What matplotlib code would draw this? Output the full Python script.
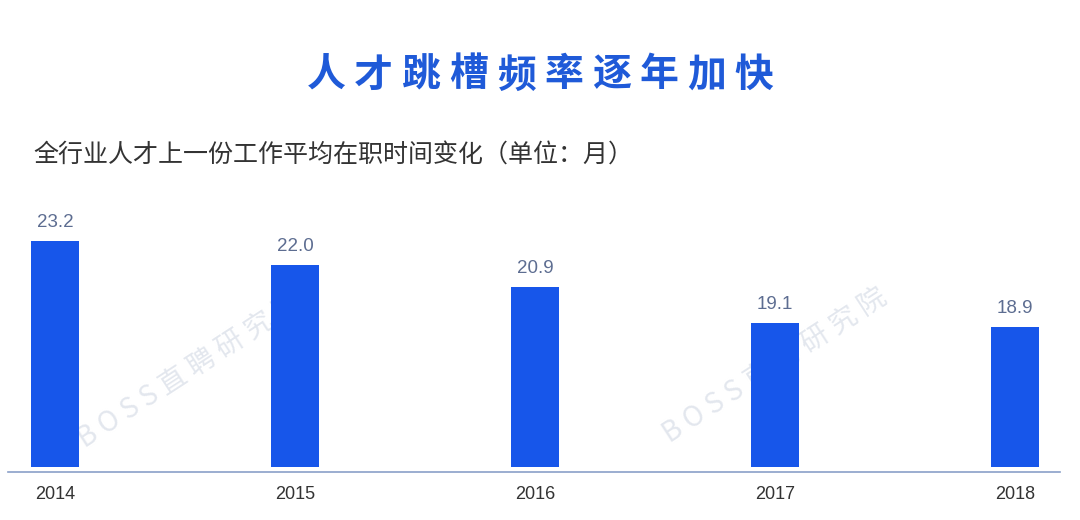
import numpy as np
import matplotlib
matplotlib.use("Agg")
import matplotlib.pyplot as plt

plt.rcParams['font.family'] = ['Noto Sans CJK SC', 'DejaVu Sans']

# 数据
years = ['2014', '2015', '2016', '2017', '2018']
months = [23.2, 22.0, 20.9, 19.1, 18.9]
base = 11.9  # 柱子的起点（纵轴不从 0 开始）

title = '人才跳槽频率逐年加快'
subtitle = '全行业人才上一份工作平均在职时间变化（单位：月）'

bar_color = '#1756ea'
title_color = '#1f5ad8'

fig = plt.figure(figsize=(10.8, 5.2), dpi=100)
fig.patch.set_facecolor('white')

# 水印（放在最底层）
for wx, wy in [(190, 370), (775, 365)]:
    fig.text(wx / 1080, 1 - wy / 520, 'B O S S 直 聘 研 究 院', rotation=33,
             ha='center', va='center', fontsize=20, color='#e3e7ee',
             zorder=-5)

# 坐标区占满宽度，只画柱子
ax = fig.add_axes([0, 45 / 520, 1, 270 / 520])
ax.patch.set_alpha(0)
x = np.arange(len(years))
vals = np.array(months) - base
ax.bar(x, vals, bottom=base, width=0.196, color=bar_color, zorder=3)
ax.set_xlim(-55 / 240, -55 / 240 + 1080 / 240)
ax.set_ylim(11.5, 25.0)
ax.axis('off')

# 底部横线
ax.axhline(11.65, xmin=8 / 1080, xmax=1060 / 1080, color='#8a9fc8', lw=1.2, zorder=2)

# 数值标签和年份
for xi, v, yr in zip(x, months, years):
    ax.annotate(f'{v:.1f}', (xi, v), xytext=(0, 7), textcoords='offset points',
                ha='center', va='bottom', fontsize=13.5, color='#5d6d91',
                family=['Liberation Sans', 'DejaVu Sans'])
    ax.annotate(yr, (xi, 11.65), xytext=(0, -10), textcoords='offset points',
                ha='center', va='top', fontsize=13, color='#333333',
                family=['Liberation Sans', 'DejaVu Sans'])

# 标题（字间距较宽，逐字放置）
step = 47.5
start = 540 - step * (len(title) - 1) / 2
for i, ch in enumerate(title):
    fig.text((start + i * step) / 1080, 1 - 75 / 520, ch, ha='center', va='center',
             fontsize=28, fontweight='bold', color=title_color)

fig.text(33 / 1080, 1 - 156 / 520, subtitle, ha='left', va='center',
         fontsize=18, color='#333333')

fig.savefig('out.png', dpi=100, facecolor='white')
